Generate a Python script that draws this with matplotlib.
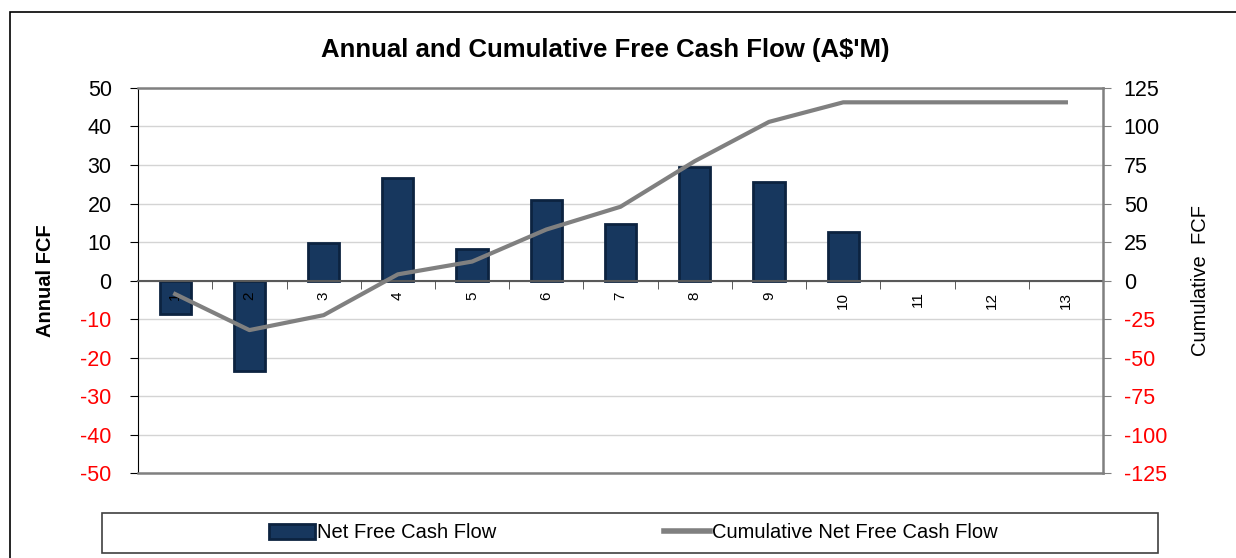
import numpy as np
import matplotlib.pyplot as plt
from matplotlib.patches import Rectangle, Patch
from matplotlib.lines import Line2D

plt.rcParams['font.family'] = ['Liberation Sans', 'DejaVu Sans']

years = list(range(1, 14))
annual_fcf = [-8.8, -23.4, 9.7, 26.5, 8.3, 20.8, 14.8, 29.6, 25.5, 12.7, 0, 0, 0]
cumulative_fcf = [-8.8, -32.2, -22.5, 4.0, 12.3, 33.1, 47.9, 77.5, 103.0, 115.7, 115.7, 115.7, 115.7]
left_ticks = list(range(-50, 51, 10))
right_ticks = list(range(-125, 126, 25))

bar_color = '#17375E'
bar_edge = '#0C2340'
line_color = '#808080'

fig = plt.figure(figsize=(12.36, 5.58), dpi=100)
ax = fig.add_axes([0.1117, 0.1523, 0.7807, 0.69])

# outer chart border
fig.patches.append(Rectangle((10/1236, -0.05), 1.2, 1 - 12/558 + 0.05,
                             transform=fig.transFigure, fill=False,
                             edgecolor='black', lw=1.2))

x = np.array(years)
vals = np.array(annual_fcf)
nz = vals != 0  # empty years get no bar
ax.bar(x[nz], vals[nz], width=0.42, color=bar_color, edgecolor=bar_edge, linewidth=2, zorder=2)

ax.set_xlim(0.5, 13.5)
ax.set_ylim(-50, 50)
ax.set_yticks(left_ticks)
ax.set_yticklabels([str(v) for v in left_ticks], fontsize=15.5)
for lab, v in zip(ax.get_yticklabels(), left_ticks):
    lab.set_color('red' if v < 0 else 'black')
ax.tick_params(axis='y', length=6, pad=13, color='black')
ax.yaxis.grid(True, color='#D4D4D4', lw=1)
ax.set_axisbelow(True)
ax.xaxis.set_zorder(4)  # year labels drawn over the bars

# x axis sits at zero
ax.spines['bottom'].set_position(('data', 0))
ax.spines['bottom'].set_color('#595959')
ax.spines['bottom'].set_linewidth(1.5)
ax.spines['top'].set_color('#808080')
ax.spines['top'].set_linewidth(1.8)
ax.spines['right'].set_visible(False)
ax.spines['left'].set_color('black')
ax.axhline(-50, color='#808080', lw=1.8, clip_on=False, zorder=4)

ax.set_xticks(x)
ax.set_xticklabels([str(y) for y in years], rotation=90, fontsize=11)
ax.set_xticks(np.arange(1.5, 13.5, 1), minor=True)
ax.tick_params(axis='x', which='major', length=0, pad=8)
ax.tick_params(axis='x', which='minor', length=6, color='#404040')

ax.set_ylabel('Annual FCF', fontsize=14.5, fontweight='bold', labelpad=18)

ax2 = ax.twinx()
ax2.plot(x, cumulative_fcf, color=line_color, lw=3, zorder=5)
ax2.set_ylim(-125, 125)
ax2.set_yticks(right_ticks)
ax2.set_yticklabels([str(v) for v in right_ticks], fontsize=15.5)
for lab, v in zip(ax2.get_yticklabels(), right_ticks):
    lab.set_color('red' if v < 0 else 'black')
ax2.tick_params(axis='y', length=6, pad=9, color='#808080')
for s in ['top', 'bottom', 'left']:
    ax2.spines[s].set_visible(False)
ax2.spines['right'].set_color('#808080')
ax2.spines['right'].set_linewidth(1.8)
ax2.set_ylabel('Cumulative  FCF', fontsize=14.5, labelpad=17)

fig.text(0.49, 0.91, "Annual and Cumulative Free Cash Flow (A$'M)",
         ha='center', va='center', fontsize=18.5, fontweight='bold')

# legend box
fig.patches.append(Rectangle((102/1236, 1 - 553/558), 1056/1236, 40/558,
                             transform=fig.transFigure, fill=False,
                             edgecolor='#404040', lw=1.2))
handles = [Patch(facecolor=bar_color, edgecolor=bar_edge, lw=2),
           Line2D([0], [0], color=line_color, lw=4)]
fig.legend(handles, ['Net Free Cash Flow', 'Cumulative Net Free Cash Flow'],
           loc='center', bbox_to_anchor=(0.5125, 1 - 533/558), ncol=2, frameon=False,
           prop={'family': ['Liberation Sans Narrow', 'Liberation Sans'], 'size': 14.5},
           handlelength=2.3, handleheight=0.8, handletextpad=0.1, columnspacing=8.3)

fig.savefig('out.png', dpi=100)
